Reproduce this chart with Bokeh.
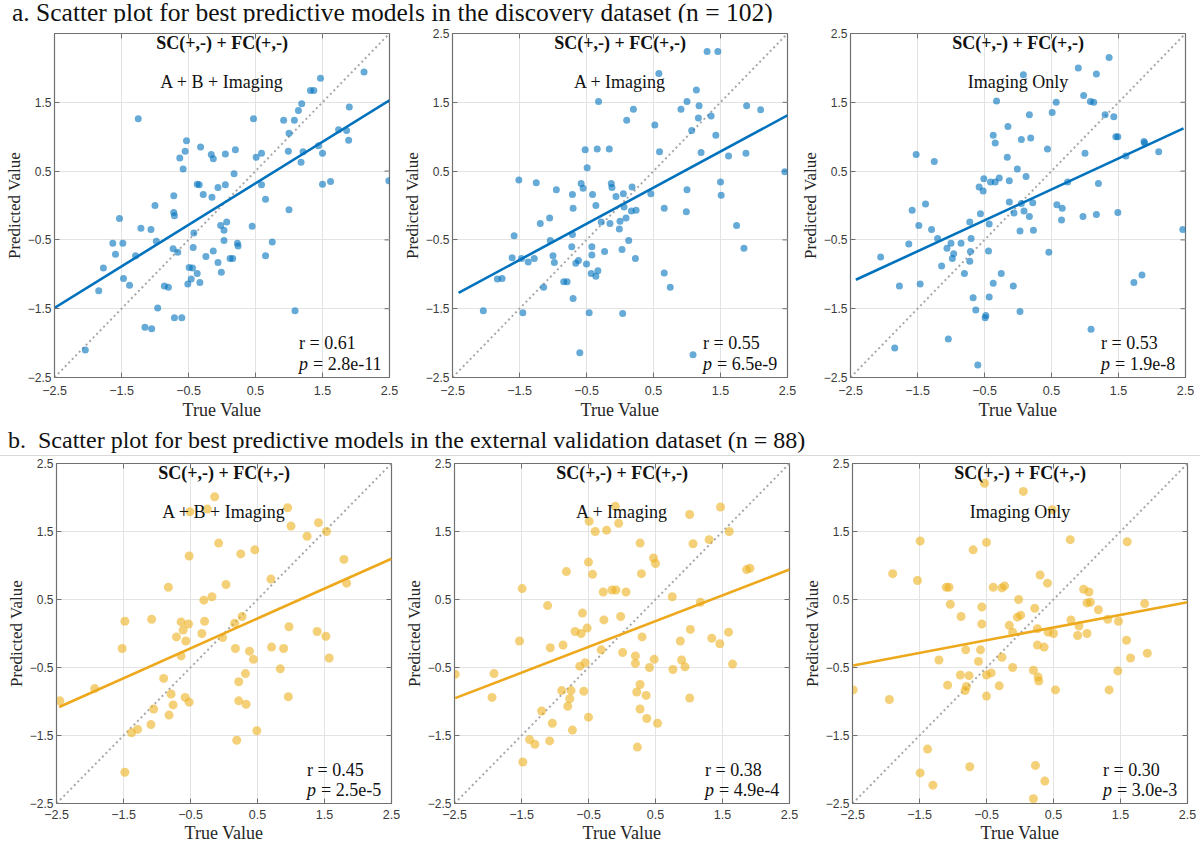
from bokeh.plotting import figure
from bokeh.layouts import column, row
from bokeh.models import Div, FixedTicker, Range1d
from bokeh.core.properties import value
from bokeh.embed import file_html
from bokeh.resources import INLINE
import math

# ---------------- data ----------------
TITLE_A = "a. Scatter plot for best predictive models in the discovery dataset (n = 102)"
TITLE_B = "b.&nbsp; Scatter plot for best predictive models in the external validation dataset (n = 88)"
MODEL_HEADER = "SC(+,-) + FC(+,-)"
MODELS = ["A + B + Imaging", "A + Imaging", "Imaging Only"]
X_LABEL = "True Value"
Y_LABEL = "Predicted Value"
TICKS = [-2.5, -1.5, -0.5, 0.5, 1.5, 2.5]
TICKS_A1_Y = [-2.5, -1.5, -0.5, 0.5, 1.5]
R_VALUES = ["0.61", "0.55", "0.53", "0.45", "0.38", "0.30"]
P_VALUES = ["2.8e-11", "6.5e-9", "1.9e-8", "2.5e-5", "4.9e-4", "3.0e-3"]

A1_TRUE = [2.12,1.47,1.32,1.37,1.19,1.14,1.90,-1.25,0.47,0.92,
           1.08,1.74,1.86,1.00,1.89,-0.53,-0.32,-0.55,0.99,1.21,
           1.44,1.50,0.20,0.05,0.59,-0.16,-0.13,0.51,-0.63,1.18,
           -0.58,0.18,-0.37,-0.34,0.05,0.59,-0.06,-0.28,-0.72,-0.15,
           1.50,1.62,2.49,0.65,-1.00,-0.72,-0.71,1.00,-1.53,0.07,
           -0.02,-1.21,-1.06,0.03,0.45,-1.63,-1.48,-0.98,0.03,-0.42,
           0.23,0.24,0.75,-1.59,-1.29,-0.73,-0.66,-0.43,-0.13,-0.24,
           0.12,0.16,0.65,-0.06,-1.77,-0.49,-0.44,-0.37,-1.47,-1.38,
           -0.46,-0.51,-0.33,-0.01,-0.86,-0.80,-1.84,-0.96,1.09,-1.15,
           -1.05,-0.71,-0.60,-2.04]
A1_PRED = [1.94,1.85,1.67,1.67,1.48,1.38,1.43,1.26,1.26,1.24,
           1.24,1.10,1.09,1.05,0.95,0.94,0.85,0.79,0.79,0.78,
           0.87,0.76,0.81,0.75,0.76,0.74,0.68,0.70,0.69,0.63,
           0.53,0.46,0.31,0.30,0.30,0.30,0.26,0.16,0.14,0.12,
           0.31,0.35,0.36,0.09,0.00,-0.10,-0.15,-0.06,-0.19,-0.24,
           -0.29,-0.33,-0.35,-0.36,-0.30,-0.55,-0.55,-0.52,-0.51,-0.40,
           -0.55,-0.59,-0.53,-0.71,-0.73,-0.63,-0.68,-0.61,-0.66,-0.74,
           -0.77,-0.77,-0.73,-0.83,-0.91,-0.90,-0.91,-0.99,-1.06,-1.16,
           -1.07,-1.14,-1.12,-0.97,-1.17,-1.19,-1.24,-1.49,-1.53,-1.77,
           -1.79,-1.63,-1.63,-2.10]

A2_TRUE = [1.30,1.46,0.58,1.14,-0.32,1.00,0.20,0.91,1.18,1.89,
           2.10,1.36,1.17,0.10,0.52,1.07,1.43,-0.52,-0.34,-0.16,
           0.59,1.21,1.88,1.62,-0.49,2.46,-1.51,-1.25,-0.58,-0.13,
           -0.55,-0.12,-0.95,0.18,-0.71,-0.41,-0.06,0.05,0.46,1.00,
           1.50,1.51,-0.36,0.06,-0.70,0.66,0.99,0.17,0.24,-1.05,
           -1.19,-0.28,-0.15,0.00,0.09,-0.01,1.74,-1.58,-0.71,-1.04,
           0.13,1.85,-0.72,-0.42,0.03,-0.23,-1.61,-1.47,-1.28,-1.00,
           -0.98,-1.37,-0.42,0.23,-0.62,-0.66,-0.50,-0.33,-0.43,-0.36,
           0.66,-1.76,-1.83,-0.84,-0.79,-1.14,0.75,-0.70,-2.04,-1.45,
           -0.46,0.04,-0.60,1.09]
A2_PRED = [2.24,2.24,1.92,1.68,1.51,1.51,1.40,1.40,1.45,1.45,
           1.39,1.30,1.27,1.24,1.17,1.09,1.02,0.81,0.82,0.82,
           0.78,0.77,0.76,0.72,0.55,0.49,0.37,0.33,0.32,0.32,
           0.25,0.26,0.23,0.27,0.16,0.16,0.13,0.17,0.17,0.23,
           0.34,0.15,0.00,-0.02,-0.04,-0.04,-0.09,-0.08,-0.07,-0.18,
           -0.26,-0.24,-0.26,-0.23,-0.18,-0.34,-0.29,-0.44,-0.42,-0.51,
           -0.51,-0.62,-0.60,-0.60,-0.64,-0.67,-0.76,-0.77,-0.77,-0.73,
           -0.83,-0.82,-0.72,-0.77,-0.80,-0.84,-0.85,-0.95,-0.99,-1.03,
           -0.98,-1.06,-1.07,-1.11,-1.11,-1.19,-1.19,-1.35,-1.53,-1.56,
           -1.56,-1.57,-2.14,-2.17]

A3_TRUE = [1.36,0.90,1.17,0.08,0.98,0.57,1.08,1.13,-0.32,1.30,
           0.17,0.51,1.43,-0.15,-0.37,-0.34,0.05,0.19,1.46,1.49,
           0.44,1.00,1.88,1.89,2.10,1.61,-1.52,-1.25,-0.16,-0.01,
           -0.51,-0.41,-0.34,-0.28,-0.13,0.12,1.20,-0.58,-0.52,0.74,
           -0.13,0.05,0.22,0.58,0.66,-1.38,-1.58,-0.56,-0.06,0.09,
           0.97,1.17,1.49,0.17,0.65,-1.48,-0.72,-0.43,0.03,0.23,
           2.46,-1.29,-1.20,-0.70,-1.63,-1.00,-0.85,-1.06,-0.44,-0.71,
           0.46,-2.05,-0.96,-0.98,-0.72,-1.14,-0.80,-0.25,1.73,1.85,
           -1.77,-1.46,-0.37,-0.07,-0.67,-0.43,-0.63,0.03,-0.48,-0.49,
           1.09,-1.04,-1.84,-0.60]
A3_PRED = [2.15,2.00,1.91,1.90,1.60,1.50,1.51,1.50,1.52,1.32,
           1.32,1.35,1.29,1.15,1.02,0.91,0.96,0.98,1.00,1.00,
           0.82,0.76,0.93,0.91,0.78,0.72,0.74,0.64,0.70,0.53,
           0.39,0.34,0.34,0.40,0.36,0.42,0.32,0.27,0.21,0.34,
           0.05,0.03,0.04,0.01,-0.04,0.02,-0.07,-0.12,-0.11,-0.08,
           -0.16,-0.13,-0.10,-0.16,-0.21,-0.29,-0.24,-0.27,-0.37,-0.36,
           -0.35,-0.35,-0.48,-0.48,-0.56,-0.55,-0.55,-0.62,-0.66,-0.67,
           -0.68,-0.75,-0.70,-0.77,-0.81,-0.88,-0.99,-0.99,-1.12,-1.01,
           -1.17,-1.14,-1.13,-1.17,-1.34,-1.33,-1.52,-1.54,-1.60,-1.63,
           -1.80,-1.94,-2.07,-2.32]

B1_TRUE = [-0.14,-0.51,-0.25,0.95,1.41,1.00,1.53,1.24,-0.08,0.46,
           -0.52,0.25,1.79,0.70,0.03,-0.83,1.83,-0.18,-0.30,-1.48,
           -1.08,-0.64,-0.53,-0.29,-0.61,-0.33,0.27,0.16,0.97,-0.71,
           -0.57,-0.02,1.39,1.52,-1.52,-0.64,0.17,0.38,0.44,0.71,
           0.89,1.57,0.84,0.32,0.22,-0.90,-1.93,-0.79,-0.58,-0.52,
           0.22,0.33,0.96,-0.76,-2.45,-1.05,-0.82,-1.09,-1.38,-1.29,
           0.49,0.19,-1.48]
B1_PRED = [2.01,1.79,1.83,1.85,1.63,1.58,1.50,1.43,1.33,1.23,
           1.14,1.17,1.09,0.80,0.72,0.68,0.74,0.54,0.49,0.18,
           0.21,0.17,0.14,0.18,0.05,0.00,0.25,0.15,0.10,-0.05,
           -0.11,-0.06,0.03,-0.04,-0.22,-0.33,-0.22,-0.26,-0.38,-0.20,
           -0.22,-0.36,-0.52,-0.59,-0.71,-0.66,-0.81,-0.89,-0.94,-1.01,
           -0.99,-1.04,-0.93,-1.05,-0.99,-1.11,-1.20,-1.34,-1.46,-1.41,
           -1.43,-1.57,-2.04]

B2_TRUE = [1.47,1.01,-0.10,-0.49,-0.05,-0.40,-0.23,1.60,1.30,0.27,
           1.06,0.47,0.50,-0.50,-0.83,-0.44,0.29,1.86,1.91,-1.49,
           -0.28,-0.15,-0.09,0.06,0.75,1.17,-1.11,-0.59,-0.02,-0.27,
           -0.70,-0.61,-0.52,1.02,-1.53,0.30,0.87,1.34,1.46,1.59,
           -1.07,-0.88,-0.31,0.01,0.20,0.20,0.48,0.41,0.89,0.94,
           0.76,1.65,-0.63,-0.55,-2.49,-1.91,-1.94,-0.90,-0.76,-0.57,
           -0.81,-0.78,0.27,0.22,0.36,1.01,-1.20,0.27,-0.50,-1.04,
           0.37,0.53,-0.74,-1.38,-1.30,-1.08,0.23,-1.48]
B2_PRED = [1.86,1.75,1.87,1.65,1.62,1.50,1.52,1.50,1.38,1.33,
           1.32,1.11,1.03,1.05,0.91,0.87,0.88,0.94,0.96,0.66,
           0.61,0.64,0.64,0.61,0.54,0.46,0.41,0.30,0.25,0.20,
           0.03,0.00,0.08,0.06,-0.11,-0.05,-0.11,-0.07,-0.15,0.02,
           -0.21,-0.17,-0.24,-0.28,-0.33,-0.44,-0.38,-0.50,-0.39,-0.49,
           -0.53,-0.45,-0.48,-0.43,-0.60,-0.59,-0.94,-0.84,-0.84,-0.85,
           -1.07,-0.96,-0.75,-0.86,-0.91,-0.95,-1.14,-1.11,-1.23,-1.32,
           -1.25,-1.32,-1.42,-1.56,-1.63,-1.58,-1.67,-1.89]

B3_TRUE = [-0.53,0.05,0.48,-1.49,-0.50,-0.70,0.75,1.60,-1.90,-1.53,
           -1.10,-1.06,-0.40,-0.27,-0.23,0.30,0.41,0.95,1.03,-0.02,
           -1.04,-0.57,0.22,1.00,1.05,1.86,1.17,-0.88,0.01,-0.04,
           -0.16,-0.57,0.76,0.88,1.31,1.47,0.26,-0.11,0.42,0.50,
           0.86,1.00,1.59,-0.81,-0.59,0.26,0.36,-1.21,-0.62,-0.27,
           1.65,1.90,-0.11,0.20,0.27,0.28,1.46,-0.89,-0.76,-0.50,
           -0.43,-1.08,-0.80,-0.82,-0.31,-2.49,0.53,1.33,-0.50,-1.95,
           -1.38,-0.75,0.23,-1.49,-1.30,0.37,0.20]
B3_PRED = [2.21,2.09,1.82,1.36,1.34,1.23,1.38,1.35,0.88,0.78,
           0.68,0.68,0.68,0.67,0.70,0.86,0.74,0.65,0.61,0.50,
           0.43,0.39,0.37,0.45,0.46,0.44,0.35,0.25,0.27,0.24,
           0.12,0.14,0.20,0.11,0.21,0.18,0.07,0.02,0.02,0.00,
           -0.03,0.00,-0.10,-0.24,-0.24,-0.17,-0.20,-0.39,-0.41,-0.35,
           -0.36,-0.29,-0.50,-0.54,-0.64,-0.70,-0.55,-0.61,-0.62,-0.61,
           -0.58,-0.76,-0.78,-0.84,-0.77,-0.83,-0.83,-0.83,-0.92,-0.97,
           -1.70,-1.96,-1.94,-2.05,-2.23,-2.17,-2.43]

# regression line end points
FIT_X = [[-2.50, 2.50], [-2.41, 2.50], [-2.42, 2.47],
         [-2.46, 2.50], [-2.49, 2.50], [-2.49, 2.50]]
FIT_Y = [[-1.49, 1.53], [-1.27, 1.31], [-1.08, 1.12],
         [-1.08, 1.10], [-0.95, 0.94], [-0.47, 0.46]]

# ---------------- style ----------------
SERIF = "Liberation Serif"
SANS = "Liberation Sans"
BLUE = "#0072BD"
GOLD = "#EDB120"
GOLD_LINE = "#EDA81B"
AX_COLOR = "#707070"
GRID_COLOR = "#e3e3e3"
LO, HI = TICKS[0], TICKS[-1]


def make_panel(tx, ty, fx, fy, model, r, pv, dot_color, line_color, dot_size,
               fw, fh, bl, br, bt, bb, yticks, stat_x, x_std):
    n = min(len(tx), len(ty))
    f = figure(frame_width=fw, frame_height=fh, title=None,
               x_range=Range1d(LO, HI), y_range=Range1d(LO, HI),
               output_backend="svg", toolbar_location=None,
               min_border_left=bl, min_border_right=br,
               min_border_top=bt, min_border_bottom=bb,
               background_fill_color="white", border_fill_color="white",
               margin=0)
    f.outline_line_color = AX_COLOR
    f.outline_line_width = 1.2
    f.outline_line_alpha = 1.0

    f.xaxis.ticker = FixedTicker(ticks=TICKS)
    f.yaxis.ticker = FixedTicker(ticks=yticks)
    f.xgrid.ticker = FixedTicker(ticks=TICKS)
    f.ygrid.ticker = FixedTicker(ticks=TICKS)
    f.grid.grid_line_color = GRID_COLOR
    f.grid.grid_line_width = 1

    for ax in (f.xaxis[0], f.yaxis[0]):
        ax.major_tick_in = 5
        ax.major_tick_out = 0
        ax.minor_tick_line_color = None
        ax.axis_line_color = AX_COLOR
        ax.major_tick_line_color = AX_COLOR
        ax.major_label_text_font = SANS
        ax.major_label_text_color = "#3a3a3a"
        ax.axis_label_text_font = SERIF
        ax.axis_label_text_font_style = "normal"
        ax.axis_label_text_color = "#262626"
    f.xaxis[0].major_label_text_font_size = "12.5px"
    f.xaxis[0].axis_label_text_font_size = "18px"
    f.xaxis[0].axis_label = X_LABEL
    f.xaxis[0].major_label_standoff = x_std[0]
    f.xaxis[0].axis_label_standoff = x_std[1]
    f.yaxis[0].major_label_text_font_size = "12px"
    f.yaxis[0].axis_label_text_font_size = "17px"
    f.yaxis[0].axis_label = Y_LABEL
    f.yaxis[0].major_label_standoff = 3
    f.yaxis[0].axis_label_standoff = 1

    # inward tick marks on the top and right edges of the box
    inner = TICKS[1:-1]
    f.ray(x=inner, y=[HI] * len(inner), length=5, length_units="screen",
          angle=-math.pi / 2, line_color=AX_COLOR, line_width=1)
    f.ray(x=[HI] * len(inner), y=inner, length=5, length_units="screen",
          angle=math.pi, line_color=AX_COLOR, line_width=1)

    # identity line
    f.line([LO, HI], [LO, HI], line_color="#a8a8a8", line_width=2,
           line_dash="2 3")
    f.scatter(tx[:n], ty[:n], size=dot_size, fill_color=dot_color,
              fill_alpha=0.6, line_color=None)
    f.line(fx, fy, line_color=line_color, line_width=2.6)

    f.text(x=[0], y=[2.36], text=[MODEL_HEADER], text_font=value(SERIF),
           text_font_style="bold", text_font_size="18px", text_align="center",
           text_baseline="middle", text_color="#111111")
    f.text(x=[0], y=[1.79], text=[model], text_font=value(SERIF),
           text_font_size="18px", text_align="center",
           text_baseline="middle", text_color="#111111")
    f.text(x=[stat_x], y=[-2.0], text=["r = " + r], text_font=value(SERIF),
           text_font_size="18px", text_align="left",
           text_baseline="middle", text_color="#111111")
    f.text(x=[stat_x], y=[-2.3], text=["p"], text_font=value(SERIF),
           text_font_style="italic", text_font_size="18px",
           text_align="left", text_baseline="middle", text_color="#111111")
    f.text(x=[stat_x], y=[-2.3], text=["= " + pv], text_font=value(SERIF),
           text_font_size="18px", text_align="left", x_offset=14,
           text_baseline="middle", text_color="#111111")
    return f


a_sets = [(A1_TRUE, A1_PRED), (A2_TRUE, A2_PRED), (A3_TRUE, A3_PRED)]
b_sets = [(B1_TRUE, B1_PRED), (B2_TRUE, B2_PRED), (B3_TRUE, B3_PRED)]

A_W = [335, 335, 335]
A_BL = [54, 54, 54]
A_BR = [9, 9, 9]
A_STAT_X = [1.15, 1.24, 1.24]
B_W = [335, 335, 335]
B_BL = [56, 54, 54]
B_BR = [9, 9, 9]
B_STAT_X = [1.24, 1.24, 1.24]

row_a = []
for i, (tx, ty) in enumerate(a_sets):
    row_a.append(make_panel(tx, ty, FIT_X[i], FIT_Y[i], MODELS[i], R_VALUES[i],
                            P_VALUES[i], BLUE, BLUE, 7, A_W[i], 344,
                            A_BL[i], A_BR[i], 11, 47,
                            TICKS_A1_Y if i == 0 else TICKS, A_STAT_X[i],
                            (8, 2)))
row_b = []
for i, (tx, ty) in enumerate(b_sets):
    row_b.append(make_panel(tx, ty, FIT_X[3 + i], FIT_Y[3 + i], MODELS[i],
                            R_VALUES[3 + i], P_VALUES[3 + i], GOLD, GOLD_LINE,
                            9, B_W[i], 340, B_BL[i], B_BR[i], 6, 42,
                            TICKS, B_STAT_X[i], (6, 1)))

title_css = ("font-family:'Liberation Serif';line-height:1;"
             "white-space:nowrap;color:#111;position:relative;")
div_a = Div(text=(f'<div style="{title_css}font-size:25.5px;left:12px;top:0px;">'
                  f'{TITLE_A}</div>'),
            width=1192, height=22, margin=0)
div_b = Div(text=('<div style="width:1200px;height:32px;border-bottom:1px solid #d9d9d9;">'
                  f'<div style="{title_css}font-size:24px;left:8px;top:4px;">'
                  f'{TITLE_B}</div></div>'),
            width=1192, height=33, margin=0)

layout = column(div_a, row(*row_a, margin=0), div_b, row(*row_b, margin=0),
                margin=0)

open("out.html", "w").write(file_html(layout, INLINE))
